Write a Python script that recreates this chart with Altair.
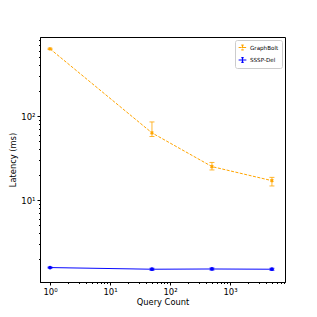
import altair as alt
import pandas as pd

series = ["GraphBolt", "SSSP-Del"]
query_counts = [1, 50, 500, 5000]
graphbolt_mean = [630, 63, 25, 17]
graphbolt_low = [620, 57, 22.8, 14.7]
graphbolt_high = [640, 85, 28, 18.6]
sssp_mean = [1.57, 1.50, 1.51, 1.50]
sssp_low = [1.55, 1.46, 1.47, 1.46]
sssp_high = [1.59, 1.54, 1.55, 1.54]
colors = ["#FFA500", "#0000FF"]
markers = ["cross", "circle"]
marker_angles = [45, 0]

x_ticks = [m * 10 ** k for k in range(0, 4) for m in range(1, 10)]
y_ticks = [m * 10 ** k for k in range(0, 3) for m in range(1, 10)]

rows = []
for i, q in enumerate(query_counts):
    rows.append({"series": "GraphBolt", "q": q, "mean": graphbolt_mean[i],
                 "low": graphbolt_low[i], "high": graphbolt_high[i]})
    rows.append({"series": "SSSP-Del", "q": q, "mean": sssp_mean[i],
                 "low": sssp_low[i], "high": sssp_high[i]})
df = pd.DataFrame(rows)

xscale = alt.Scale(type="log", domain=[0.68, 8260], nice=False)
yscale = alt.Scale(type="log", domain=[1.057, 872], nice=False)
cscale = alt.Scale(domain=series, range=colors)
stroke = alt.Stroke("series:N", scale=cscale,
                    legend=alt.Legend(
                        title=None, orient="none", legendX=195, legendY=3,
                        labelFont="DejaVu Sans", labelFontSize=5.6, labelColor="black",
                        symbolType="M-1,0H1M0,-0.6V0.6M-0.3,-0.6H0.3M-0.3,0.6H0.3",
                        symbolSize=60, symbolStrokeWidth=1.2, symbolFillColor="transparent",
                        rowPadding=1.5, padding=3, strokeColor="#cccccc", fillColor="white",
                        cornerRadius=2, labelOffset=3))

is_major = "abs(log(datum.value)/LN10 - round(log(datum.value)/LN10)) < 1e-6"
suplabel = ("(" + is_major + ") ? '10' + ['⁰','¹','²','³','⁴'][round(log(datum.value)/LN10)] : ''")
tick_size = {"condition": {"test": is_major, "value": 3}, "value": 1.5}


def make_axis(values, title, title_pad):
    return alt.Axis(values=values, labelExpr=suplabel, title=title,
                    grid=False, tickSize=tick_size, tickColor="black", domainColor="black",
                    labelFont="DejaVu Sans", labelFontSize=8.5, labelColor="black",
                    titleFont="DejaVu Sans", titleFontSize=8.3, titleFontWeight="normal",
                    titleColor="black", labelPadding=2, titlePadding=title_pad,
                    labelOverlap=False)


base = alt.Chart(df)

lines = base.mark_line(strokeWidth=1).encode(
    x=alt.X("q:Q", scale=xscale, axis=make_axis(x_ticks, "Query Count", 2)),
    y=alt.Y("mean:Q", scale=yscale, axis=make_axis(y_ticks, "Latency (ms)", 3)),
    stroke=stroke,
    strokeDash=alt.StrokeDash("series:N", scale=alt.Scale(domain=series, range=[[3, 1.5], [1, 0]]), legend=None),
)

layers = [lines]
for name, col, mk, ang in zip(series, colors, markers, marker_angles):
    sub = base.transform_filter(alt.datum.series == name)
    layers.append(sub.mark_rule(strokeWidth=1, opacity=0.8, color=col).encode(
        x="q:Q", y="low:Q", y2="high:Q"))
    layers.append(sub.mark_tick(orient="horizontal", size=5, thickness=1, opacity=0.8, color=col).encode(
        x="q:Q", y="high:Q"))
    layers.append(sub.mark_tick(orient="horizontal", size=5, thickness=1, opacity=0.8, color=col).encode(
        x="q:Q", y="low:Q"))
    layers.append(sub.mark_point(filled=True, size=14, opacity=1, color=col, shape=mk, angle=ang).encode(
        x="q:Q", y="mean:Q"))

chart = alt.layer(*layers).properties(
    width=245, height=245,
    autosize=alt.AutoSizeParams(type="none"),
    padding={"left": 32, "top": 29, "right": 24, "bottom": 27},
    background="white",
).configure_view(stroke="black", strokeWidth=1)

chart.save("out.html", embed_options={"renderer": "svg", "actions": False})
